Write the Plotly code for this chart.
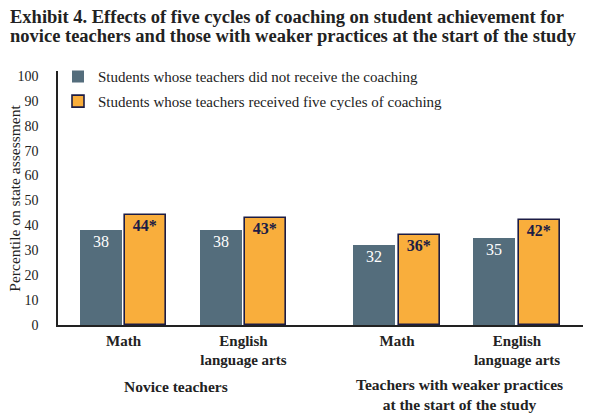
import plotly.graph_objects as go

categories = ["Math", "English<br>language arts", "Math", "English<br>language arts"]
groups = ["Novice teachers", "Teachers with weaker practices<br>at the start of the study"]
no_coaching = [38, 38, 32, 35]
coaching = [44, 43, 36, 42]
coaching_labels = ["44*", "43*", "36*", "42*"]
title_lines = [
    "Exhibit 4. Effects of five cycles of coaching on student achievement for",
    "novice teachers and those with weaker practices at the start of the study",
]

# x positions of the four category slots (gap between the two groups)
xpos = [0, 1, 2.28, 3.28]

SERIF = "Liberation Serif"
GRAY = "#546d7c"
ORANGE = "#f9ae3c"
NAVY = "#1c1c45"
INK = "#222222"

fig = go.Figure()

fig.add_trace(go.Bar(
    x=xpos, y=no_coaching,
    name="Students whose teachers did not receive the coaching",
    legendgroup="a",
    marker=dict(color=GRAY, line=dict(width=0)),
    width=0.35, offset=-0.365,
    text=[str(v) for v in no_coaching],
    textposition="inside", insidetextanchor="end",
    textfont=dict(family=SERIF, size=16, color="white"),
))
fig.add_trace(go.Bar(
    x=xpos, y=coaching,
    name="Students whose teachers received five cycles of coaching",
    legendgroup="b",
    marker=dict(color=ORANGE, line=dict(width=1.6, color=NAVY)),
    width=0.34, offset=0.015,
    text=coaching_labels,
    textposition="inside", insidetextanchor="end",
    textfont=dict(family=SERIF, size=16, color=NAVY, weight="bold"),
))

# two-line title, one annotation per line
for ty, line in zip([1.2126, 1.1378], title_lines):
    fig.add_annotation(
        x=-0.095, y=ty, xref="paper", yref="paper", xanchor="left", yanchor="middle",
        showarrow=False, text="<b>" + line + "</b>",
        font=dict(family=SERIF, size=18.5, color=INK),
    )

# y axis title
fig.add_annotation(
    x=-0.0845, y=0.5, xref="paper", yref="paper", xanchor="center", yanchor="middle",
    showarrow=False, textangle=-90, text="Percentile on state assessment",
    font=dict(family=SERIF, size=15.5, color=INK),
)

# group labels under the category labels
for gx, gy, g in zip([0.44, 2.80], [-0.244, -0.274], groups):
    fig.add_annotation(
        x=gx, y=gy, xref="x", yref="paper", yanchor="middle",
        text="<b>" + g + "</b>", showarrow=False,
        font=dict(family=SERIF, size=15.5, color=INK),
    )

fig.update_layout(
    width=593, height=420,
    margin=dict(l=50, r=18, t=63, b=103),
    paper_bgcolor="white", plot_bgcolor="white",
    font=dict(family=SERIF, color=INK),
    legend=dict(
        x=0.0, y=1.042, xanchor="left", yanchor="top",
        font=dict(family=SERIF, size=15, color=INK),
        bgcolor="rgba(0,0,0,0)", itemwidth=30, tracegroupgap=2,
    ),
    showlegend=True,
    bargap=0,
)

fig.update_yaxes(
    range=[0, 102], tickvals=list(range(0, 101, 10)),
    showgrid=False, zeroline=False, automargin=False,
    showline=True, linecolor=INK, linewidth=1.5,
    ticks="", ticklabelstandoff=15,
    tickfont=dict(family=SERIF, size=14, color=INK),
)
fig.update_xaxes(
    range=[-0.546, 3.83], tickvals=xpos,
    ticktext=["<b>" + c + "</b>" for c in categories],
    showgrid=False, zeroline=False, automargin=False,
    showline=True, linecolor=INK, linewidth=1.5,
    ticks="", ticklabelstandoff=1,
    tickfont=dict(family=SERIF, size=15, color=INK),
)

fig.write_html("out.html")
